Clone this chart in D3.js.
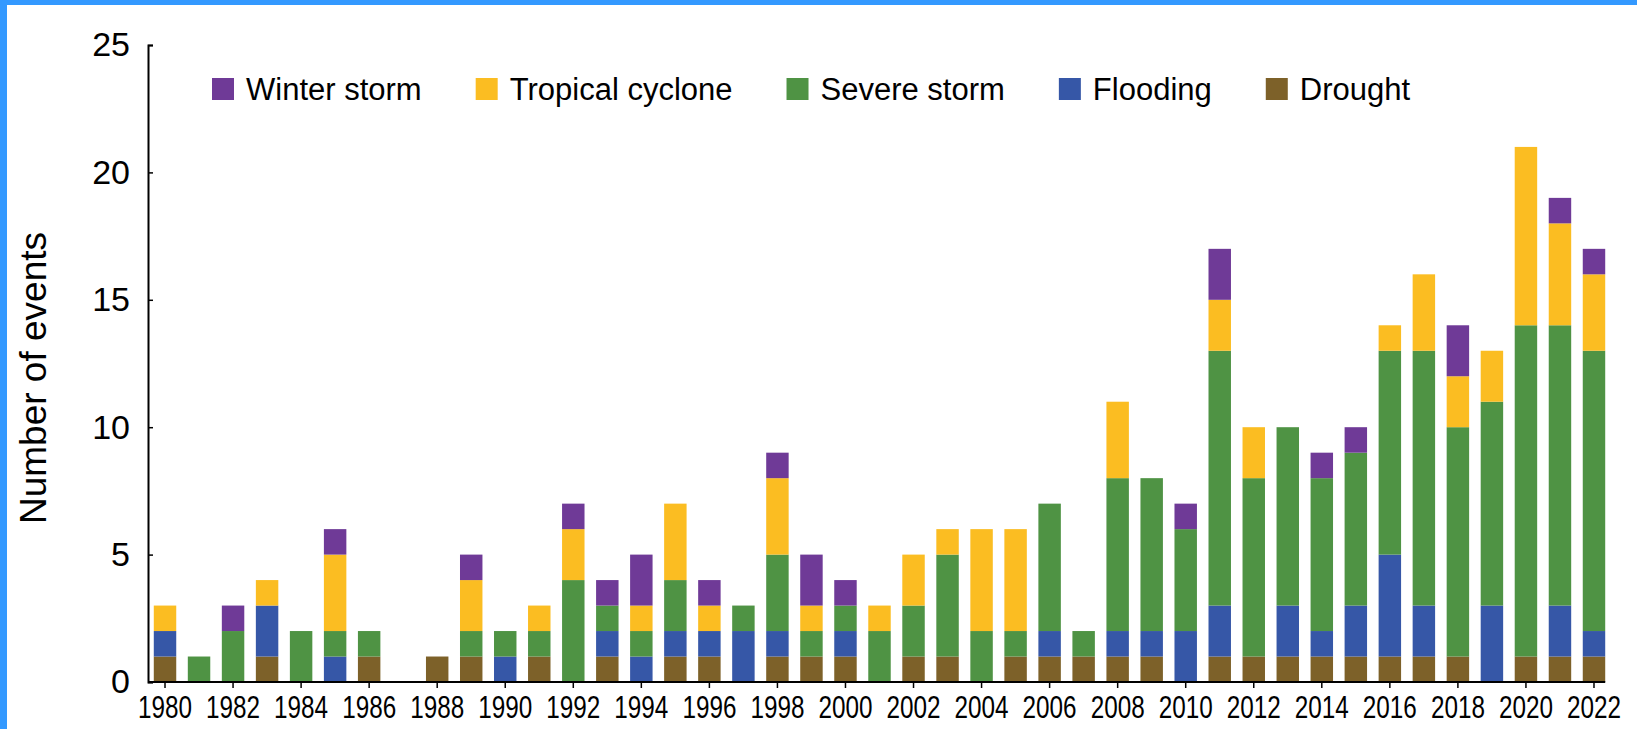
<!DOCTYPE html>
<html>
<head>
<meta charset="utf-8">
<script src="https://cdn.jsdelivr.net/npm/d3@7"></script>
<style>
  html, body { margin: 0; padding: 0; background: #fff; }
  #chart { width: 1637px; height: 729px; overflow: hidden; }
  text { font-family: "Liberation Sans", Arial, Helvetica, sans-serif; fill: #000; }
</style>
</head>
<body>
<div id="chart"></div>
<script>
  // years on the x axis
  const years = d3.range(1980, 2023);

  // counts per year, 1980 .. 2022
  const drought  = [1,0,0,1,0,0,1,0,1,1,0,1,0,1,0,1,1,0,1,1,1,0,1,1,0,1,1,1,1,1,0,1,1,1,1,1,1,1,1,0,1,1,1];
  const flooding = [1,0,0,2,0,1,0,0,0,0,1,0,0,1,1,1,1,2,1,0,1,0,0,0,0,0,1,0,1,1,2,2,0,2,1,2,4,2,0,3,0,2,1];
  const severe   = [0,1,2,0,2,1,1,0,0,1,1,1,4,1,1,2,0,1,3,1,1,2,2,4,2,1,5,1,6,6,4,10,7,7,6,6,8,10,9,8,13,11,11];
  const tropical = [1,0,0,1,0,3,0,0,0,2,0,1,2,0,1,3,1,0,3,1,0,1,2,1,4,4,0,0,3,0,0,2,2,0,0,0,1,3,2,2,7,4,3];
  const winter   = [0,0,1,0,0,1,0,0,0,1,0,0,1,1,2,0,1,0,1,2,1,0,0,0,0,0,0,0,0,0,1,2,0,0,1,1,0,0,2,0,0,1,1];

  const yTicks = [0, 5, 10, 15, 20, 25];
  const xTicks = d3.range(1980, 2023, 2);

  // stacking order, bottom first
  const seriesKeys = ['Drought', 'Flooding', 'Severe storm', 'Tropical cyclone', 'Winter storm'];
  const seriesValues = [drought, flooding, severe, tropical, winter];
  const colors = ['#7d6129', '#3657a7', '#4f9344', '#fbbd22', '#6f3a97'];
  // legend reads top of stack first
  const legendKeys = ['Winter storm', 'Tropical cyclone', 'Severe storm', 'Flooding', 'Drought'];

  const width = 1637;
  const height = 729;
  const left = 148;
  const right = 1611;
  const baseY = 682;
  const topY = 45;

  const rows = years.map(function(yr, i) {
    const row = { year: yr };
    seriesKeys.forEach(function(k, j) { row[k] = seriesValues[j][i]; });
    return row;
  });

  const stacked = d3.stack().keys(seriesKeys)(rows);

  const color = d3.scaleOrdinal().domain(seriesKeys).range(colors);

  const x = d3.scaleBand()
    .domain(years)
    .range([left, right])
    .paddingInner(0.34)
    .paddingOuter(0.17);

  const y = d3.scaleLinear()
    .domain([0, 25])
    .range([baseY, topY]);

  const svg = d3.select('#chart').append('svg')
    .attr('width', width)
    .attr('height', height);

  svg.append('rect').attr('width', width).attr('height', height).attr('fill', '#fff');

  // bars
  svg.append('g')
    .selectAll('g')
    .data(stacked)
    .enter().append('g')
      .attr('fill', function(d) { return color(d.key); })
    .selectAll('rect')
    .data(function(d) { return d; })
    .enter().append('rect')
      .attr('x', function(d) { return x(d.data.year); })
      .attr('y', function(d) { return y(d[1]); })
      .attr('width', x.bandwidth())
      .attr('height', function(d) { return y(d[0]) - y(d[1]); });

  // y axis, ticks point inward
  const yAxis = svg.append('g')
    .attr('transform', `translate(${left}, 0)`)
    .call(d3.axisLeft(y).tickValues(yTicks).tickSizeInner(-5).tickSizeOuter(-5).tickPadding(18));
  yAxis.select('.domain').attr('stroke-width', 2);
  yAxis.selectAll('.tick line').attr('stroke-width', 1.5);
  yAxis.selectAll('.tick text')
    .style('font-family', '"Liberation Sans", Arial, sans-serif')
    .style('font-size', '34px');

  // x axis
  const xAxis = svg.append('g')
    .attr('transform', `translate(0, ${baseY})`)
    .call(d3.axisBottom(x).tickValues(xTicks).tickSizeInner(6).tickSizeOuter(0));
  const lastBar = x(years[years.length - 1]) + x.bandwidth();
  xAxis.select('.domain').attr('d', `M${left},0H${lastBar}`).attr('stroke-width', 2);
  xAxis.selectAll('.tick line').attr('stroke-width', 1.5);
  xAxis.selectAll('.tick text')
    .attr('y', 36)
    .attr('dy', 0)
    .attr('textLength', 54)
    .attr('lengthAdjust', 'spacingAndGlyphs')
    .style('font-family', '"Liberation Sans", Arial, sans-serif')
    .style('font-size', '31px');

  // y axis title
  svg.append('text')
    .attr('transform', 'translate(46, 378) rotate(-90)')
    .attr('text-anchor', 'middle')
    .style('font-size', '37px')
    .text('Number of events');

  // legend in one row, spaced by text width
  const legend = svg.append('g');
  let lx = 212;
  legendKeys.forEach(function(k) {
    const item = legend.append('g').attr('transform', `translate(${lx}, 78)`);
    item.append('rect')
      .attr('width', 22)
      .attr('height', 22)
      .attr('fill', color(k));
    const t = item.append('text')
      .attr('x', 34)
      .attr('y', 22)
      .style('font-size', '31px')
      .text(k);
    lx += 34 + t.node().getComputedTextLength() + 54;
  });

  // blue frame on the top and left edges
  svg.append('rect').attr('x', 0).attr('y', 0).attr('width', width).attr('height', 5).attr('fill', '#3399ff');
  svg.append('rect').attr('x', 0).attr('y', 0).attr('width', 7).attr('height', height).attr('fill', '#3399ff');
</script>
</body>
</html>
